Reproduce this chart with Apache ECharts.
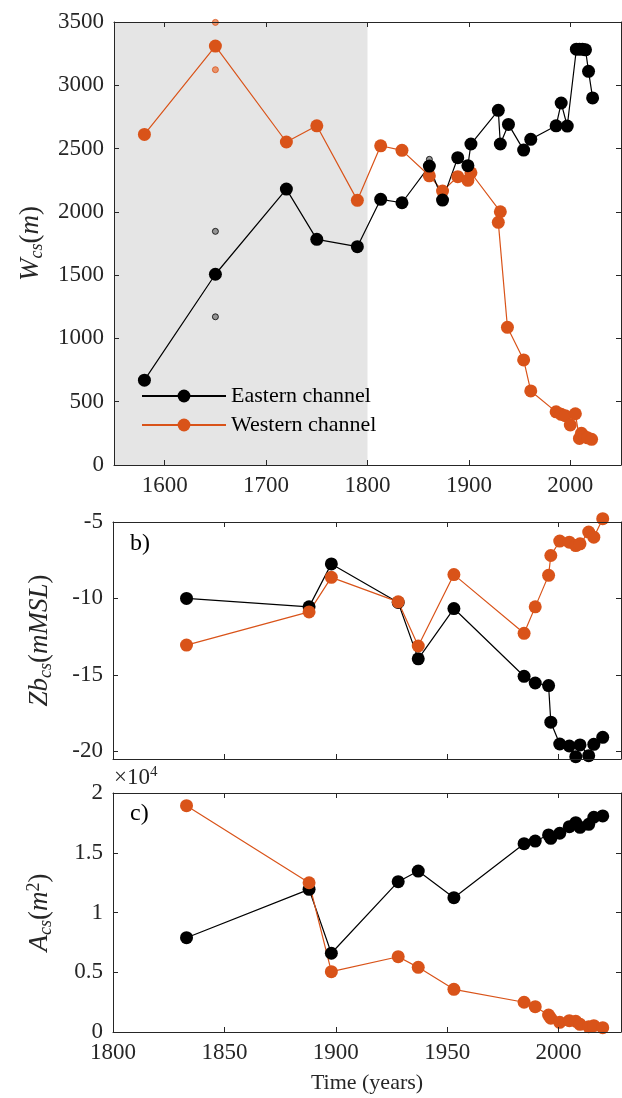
<!DOCTYPE html>
<html>
<head>
<meta charset="utf-8">
<script src="https://cdn.jsdelivr.net/npm/echarts@6/dist/echarts.min.js"></script>
<style>
  html, body { margin: 0; padding: 0; background: #fff; }
  #chart { width: 622px; height: 1098px; }
</style>
</head>
<body>
<div id="chart"></div>
<script>
// panel a) channel width
const yearsEastA = [1580, 1650, 1720, 1750, 1790, 1813, 1834, 1861, 1874, 1889, 1899, 1902, 1929, 1931, 1939, 1954, 1961, 1986, 1991, 1997, 2006, 2009, 2012, 2015, 2018, 2022];
const widthEast = [670, 1507, 2180, 1783, 1725, 2099, 2072, 2362, 2093, 2428, 2365, 2536, 2802, 2536, 2691, 2488, 2573, 2680, 2860, 2678, 3285, 3285, 3285, 3280, 3110, 2900];
const yearsWestA = [1580, 1650, 1720, 1750, 1790, 1813, 1834, 1861, 1874, 1889, 1899, 1902, 1931, 1929, 1938, 1954, 1961, 1986, 1991, 1995, 2000, 2005, 2009, 2011, 2014, 2017, 2021];
const widthWest = [2612, 3310, 2552, 2680, 2091, 2522, 2486, 2285, 2165, 2278, 2249, 2309, 2001, 1917, 1088, 830, 585, 420, 400, 390, 316, 405, 210, 250, 225, 215, 203];
const extraEast = [[1650, 1846], [1650, 1171], [1861, 2415]];
const extraWest = [[1650, 3497], [1650, 3123]];

// panels b) and c)
const years = [1833, 1888, 1898, 1928, 1937, 1953, 1984.5, 1989.5, 1995.5, 1996.5, 2000.5, 2004.8, 2007.7, 2009.6, 2013.5, 2015.8, 2019.8];
const zbEast = [-10.0, -10.55, -7.74, -10.26, -13.95, -10.66, -15.09, -15.53, -15.7, -18.09, -19.52, -19.65, -20.35, -19.58, -20.28, -19.54, -19.08];
const zbWest = [-13.05, -10.88, -8.62, -10.22, -13.11, -8.44, -12.28, -10.55, -8.49, -7.19, -6.25, -6.32, -6.54, -6.43, -5.66, -5.99, -4.78];
const areaEast = [7890, 11940, 6590, 12580, 13470, 11240, 15760, 15980, 16490, 16210, 16630, 17180, 17520, 17130, 17380, 17970, 18080];
const areaWest = [18940, 12490, 5050, 6300, 5410, 3570, 2490, 2120, 1420, 1150, 810, 950, 900, 640, 440, 530, 360];

// ticks
const ticksXA = [1600, 1700, 1800, 1900, 2000];
const ticksYA = [0, 500, 1000, 1500, 2000, 2500, 3000, 3500];
const ticksXBC = [1800, 1850, 1900, 1950, 2000];
const ticksYB = [-20, -15, -10, -5];
const ticksYC = [0, 5000, 10000, 15000, 20000];

const FONT = 'Liberation Serif';
const INK = '#262626';
const BLACK = '#000000';
const ORANGE = '#D95319';

const nameRich = {
  i: { fontFamily: FONT, fontStyle: 'italic', fontSize: 27, color: INK, lineHeight: 30 },
  n: { fontFamily: FONT, fontSize: 27, color: INK, lineHeight: 30 },
  s: { fontFamily: FONT, fontStyle: 'italic', fontSize: 18, color: INK, lineHeight: 14, verticalAlign: 'bottom' },
  p: { fontFamily: FONT, fontSize: 18, color: INK, lineHeight: 14, verticalAlign: 'top' }
};

function xAxisPair(grid, min, max, ticks, showLabels, name) {
  const base = {
    type: 'value', gridIndex: grid, min: min, max: max, z: 5,
    splitLine: { show: false },
    axisLine: { show: true, onZero: false, lineStyle: { color: INK, width: 1 } },
    axisTick: { show: true, inside: true, length: 5, customValues: ticks, lineStyle: { color: INK } }
  };
  return [
    Object.assign({}, base, {
      position: 'bottom',
      axisLabel: { show: showLabels, customValues: ticks, formatter: v => String(v), color: INK, fontFamily: FONT, fontSize: 23, margin: 9 },
      name: name || '',
      nameLocation: 'middle',
      nameGap: 40,
      nameTextStyle: { fontFamily: FONT, fontSize: 22, color: INK }
    }),
    Object.assign({}, base, { position: 'top', axisLabel: { show: false } })
  ];
}

function yAxisPair(grid, min, max, ticks, formatter, name, gap) {
  const base = {
    type: 'value', gridIndex: grid, min: min, max: max, z: 5,
    splitLine: { show: false },
    axisLine: { show: true, onZero: false, lineStyle: { color: INK, width: 1 } },
    axisTick: { show: true, inside: true, length: 5, customValues: ticks, lineStyle: { color: INK } }
  };
  return [
    Object.assign({}, base, {
      position: 'left',
      axisLabel: { show: true, customValues: ticks, formatter: formatter, color: INK, fontFamily: FONT, fontSize: 23, margin: 10 },
      name: name,
      nameLocation: 'middle',
      nameRotate: 90,
      nameGap: gap,
      nameTextStyle: { rich: nameRich }
    }),
    Object.assign({}, base, { position: 'right', axisLabel: { show: false } })
  ];
}

function pairs(xs, ys) {
  return xs.map((x, i) => [x, ys[i]]);
}

function lineSeries(name, color, grid, data) {
  return {
    name: name,
    type: 'line',
    xAxisIndex: grid * 2,
    yAxisIndex: grid * 2,
    data: data,
    clip: false,
    symbol: 'circle',
    symbolSize: 13,
    itemStyle: { color: color },
    lineStyle: { color: color, width: 1.2 },
    z: 3
  };
}

function smallDots(fill, edge, data) {
  return {
    name: 'extra',
    type: 'scatter',
    xAxisIndex: 0,
    yAxisIndex: 0,
    data: data,
    clip: false,
    symbolSize: 6,
    itemStyle: { color: fill, borderColor: edge, borderWidth: 1 },
    z: 2
  };
}

const chart = echarts.init(document.getElementById('chart'), null, { renderer: 'canvas' });

chart.setOption({
  animation: false,
  backgroundColor: '#ffffff',
  grid: [
    { left: 114, top: 22, width: 507, height: 443 },
    { left: 113, top: 522, width: 508, height: 237 },
    { left: 113, top: 793, width: 508, height: 239 }
  ],
  xAxis: [].concat(
    xAxisPair(0, 1550, 2050, ticksXA, true),
    xAxisPair(1, 1800, 2028, ticksXBC, false),
    xAxisPair(2, 1800, 2028, ticksXBC, true, 'Time (years)')
  ),
  yAxis: [].concat(
    yAxisPair(0, 0, 3500, ticksYA, v => String(v), '{i|W}{s|cs}{n|(}{i|m}{n|)}', 68),
    yAxisPair(1, -20.5, -5, ticksYB, v => String(v), '{i|Zb}{s|cs}{n|(}{i|mMSL}{n|)}', 58),
    yAxisPair(2, 0, 20000, ticksYC, v => String(v / 10000), '{i|A}{s|cs}{n|(}{i|m}{p|2}{n|)}', 58)
  ),
  legend: {
    data: ['Eastern channel', 'Western channel'],
    orient: 'vertical',
    left: 141,
    top: 385,
    padding: 0,
    itemWidth: 84,
    itemHeight: 16,
    itemGap: 7,
    textStyle: { fontFamily: FONT, fontSize: 22, color: BLACK }
  },
  graphic: [
    { type: 'text', left: 130, top: 55, style: { text: 'a)', font: '24px "Liberation Serif"', fill: BLACK } },
    { type: 'text', left: 130, top: 532, style: { text: 'b)', font: '24px "Liberation Serif"', fill: BLACK } },
    { type: 'text', left: 130, top: 802, style: { text: 'c)', font: '24px "Liberation Serif"', fill: BLACK } },
    {
      type: 'text', left: 114, top: 765,
      style: {
        text: '{n|×10}{p|4}',
        rich: {
          n: { fontFamily: FONT, fontSize: 23, fill: INK, lineHeight: 26 },
          p: { fontFamily: FONT, fontSize: 15, fill: INK, lineHeight: 12, verticalAlign: 'top' }
        }
      }
    }
  ],
  series: [
    {
      name: 'shade',
      type: 'line',
      xAxisIndex: 0,
      yAxisIndex: 0,
      data: [],
      z: 1,
      markArea: {
        silent: true,
        itemStyle: { color: '#e5e5e5' },
        data: [[{ xAxis: 1550, yAxis: 0 }, { xAxis: 1800, yAxis: 3500 }]]
      }
    },
    smallDots('#808080', BLACK, extraEast),
    smallDots('#ea7f4e', ORANGE, extraWest),
    lineSeries('Western channel', ORANGE, 0, pairs(yearsWestA, widthWest)),
    lineSeries('Eastern channel', BLACK, 0, pairs(yearsEastA, widthEast)),
    lineSeries('Eastern channel', BLACK, 1, pairs(years, zbEast)),
    lineSeries('Western channel', ORANGE, 1, pairs(years, zbWest)),
    lineSeries('Eastern channel', BLACK, 2, pairs(years, areaEast)),
    lineSeries('Western channel', ORANGE, 2, pairs(years, areaWest))
  ]
});
</script>
</body>
</html>
